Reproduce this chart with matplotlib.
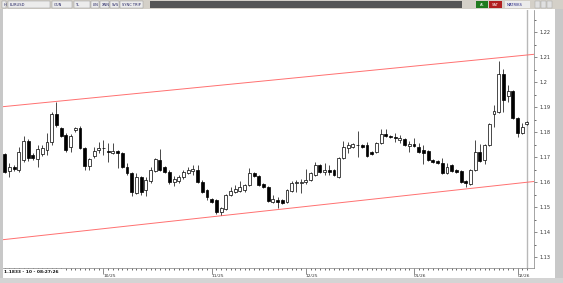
import numpy as np
import matplotlib.pyplot as plt
from matplotlib.patches import Rectangle

# daily EURUSD candles (open, high, low, close)
opens = [1.1711, 1.1644, 1.1661, 1.1648, 1.1688, 1.1765, 1.1708, 1.1692, 1.1711, 1.1728,
         1.1759, 1.1872, 1.1815, 1.1788, 1.1741, 1.1808, 1.1815, 1.1737, 1.1665, 1.1704,
         1.1728, 1.1734, 1.1725, 1.1715, 1.1725, 1.1715, 1.1661, 1.1635, 1.1557, 1.1619,
         1.1568, 1.1604, 1.1645, 1.1688, 1.1659, 1.1641, 1.1599, 1.1605, 1.1619, 1.1635,
         1.1645, 1.1648, 1.1601, 1.1568, 1.1531, 1.1528, 1.1481, 1.1491, 1.1548, 1.1561,
         1.1565, 1.1568, 1.1588, 1.1635, 1.1624, 1.1591, 1.1581, 1.1521, 1.1528, 1.1528,
         1.1521, 1.1565, 1.1595, 1.1595, 1.1599, 1.1608, 1.1628, 1.1668, 1.1641, 1.1648,
         1.1648, 1.1621, 1.1695, 1.1735, 1.1741, 1.1746, 1.1748, 1.1748, 1.1721, 1.1721,
         1.1755, 1.1792, 1.1784, 1.1781, 1.1768, 1.1771, 1.1744, 1.1752, 1.1741, 1.1728,
         1.1724, 1.1688, 1.1684, 1.1675, 1.1635, 1.1668, 1.1648, 1.1644, 1.1604, 1.1591,
         1.1648, 1.1719, 1.1688, 1.1748, 1.1871, 1.1879, 1.2031, 1.1945, 1.1964, 1.1855,
         1.1795, 1.1832]
highs = [1.1715, 1.1676, 1.1668, 1.1741, 1.1784, 1.1772, 1.1716, 1.1748, 1.1748, 1.1796,
         1.1880, 1.1921, 1.1821, 1.1795, 1.1790, 1.1821, 1.1824, 1.1740, 1.1696, 1.1741,
         1.1761, 1.1768, 1.1757, 1.1757, 1.1728, 1.1720, 1.1676, 1.1640, 1.1636, 1.1625,
         1.1621, 1.1661, 1.1696, 1.1731, 1.1664, 1.1646, 1.1624, 1.1629, 1.1646, 1.1661,
         1.1668, 1.1668, 1.1606, 1.1572, 1.1535, 1.1532, 1.1500, 1.1552, 1.1581, 1.1588,
         1.1604, 1.1592, 1.1655, 1.1640, 1.1628, 1.1595, 1.1585, 1.1548, 1.1541, 1.1532,
         1.1572, 1.1604, 1.1608, 1.1611, 1.1651, 1.1640, 1.1681, 1.1672, 1.1675, 1.1668,
         1.1652, 1.1700, 1.1765, 1.1761, 1.1756, 1.1805, 1.1752, 1.1761, 1.1725, 1.1760,
         1.1811, 1.1811, 1.1788, 1.1795, 1.1788, 1.1776, 1.1765, 1.1775, 1.1755, 1.1748,
         1.1728, 1.1692, 1.1688, 1.1695, 1.1675, 1.1672, 1.1652, 1.1648, 1.1608, 1.1652,
         1.1768, 1.1751, 1.1752, 1.1836, 1.1908, 1.2084, 1.2052, 1.1988, 1.1968, 1.1860,
         1.1836, 1.1845]
lows = [1.1638, 1.1621, 1.1644, 1.1640, 1.1680, 1.1684, 1.1688, 1.1661, 1.1705, 1.1708,
        1.1748, 1.1820, 1.1780, 1.1720, 1.1720, 1.1801, 1.1730, 1.1648, 1.1648, 1.1698,
        1.1716, 1.1708, 1.1681, 1.1710, 1.1656, 1.1655, 1.1628, 1.1544, 1.1550, 1.1548,
        1.1544, 1.1598, 1.1640, 1.1644, 1.1636, 1.1592, 1.1584, 1.1596, 1.1614, 1.1630,
        1.1628, 1.1596, 1.1556, 1.1528, 1.1515, 1.1472, 1.1468, 1.1488, 1.1545, 1.1556,
        1.1560, 1.1561, 1.1584, 1.1620, 1.1584, 1.1575, 1.1520, 1.1516, 1.1495, 1.1512,
        1.1516, 1.1560, 1.1561, 1.1557, 1.1592, 1.1604, 1.1624, 1.1636, 1.1628, 1.1628,
        1.1624, 1.1616, 1.1690, 1.1715, 1.1736, 1.1701, 1.1736, 1.1700, 1.1706, 1.1716,
        1.1750, 1.1780, 1.1775, 1.1761, 1.1755, 1.1744, 1.1721, 1.1741, 1.1715, 1.1670,
        1.1684, 1.1675, 1.1671, 1.1630, 1.1630, 1.1640, 1.1635, 1.1596, 1.1581, 1.1586,
        1.1644, 1.1680, 1.1672, 1.1744, 1.1821, 1.1875, 1.1880, 1.1921, 1.1850, 1.1781,
        1.1790, 1.1828]
closes = [1.1641, 1.1661, 1.1652, 1.1719, 1.1765, 1.1695, 1.1695, 1.1732, 1.1735, 1.1761,
          1.1872, 1.1828, 1.1785, 1.1728, 1.1785, 1.1816, 1.1735, 1.1665, 1.1692, 1.1724,
          1.1736, 1.1736, 1.1719, 1.1725, 1.1715, 1.1661, 1.1635, 1.1561, 1.1621, 1.1561,
          1.1608, 1.1648, 1.1691, 1.1648, 1.1641, 1.1599, 1.1611, 1.1619, 1.1641, 1.1648,
          1.1652, 1.1601, 1.1561, 1.1539, 1.1520, 1.1481, 1.1495, 1.1548, 1.1565, 1.1571,
          1.1581, 1.1588, 1.1635, 1.1624, 1.1588, 1.1579, 1.1525, 1.1531, 1.1520, 1.1517,
          1.1568, 1.1595, 1.1601, 1.1601, 1.1608, 1.1635, 1.1668, 1.1641, 1.1648, 1.1639,
          1.1628, 1.1695, 1.1741, 1.1748, 1.1752, 1.1748, 1.1741, 1.1704, 1.1711, 1.1755,
          1.1792, 1.1784, 1.1779, 1.1775, 1.1775, 1.1748, 1.1752, 1.1744, 1.1721, 1.1715,
          1.1688, 1.1679, 1.1675, 1.1635, 1.1661, 1.1644, 1.1639, 1.1601, 1.1595, 1.1648,
          1.1719, 1.1684, 1.1748, 1.1831, 1.1884, 1.2031, 1.1928, 1.1964, 1.1855, 1.1795,
          1.1821, 1.1840]

month_labels = ['10/25', '11/25', '12/25', '01/26', '02/26']
month_start = [21, 44, 64, 87, 109]

# trend channel, two points each (bar index, price)
upper_pts = [(0, 1.1902), (111, 1.2108)]
lower_pts = [(0, 1.1370), (111, 1.1599)]

price_ticks = [1.13, 1.14, 1.15, 1.16, 1.17, 1.18, 1.19, 1.20, 1.21, 1.22]

W, H = 563, 283
fig = plt.figure(figsize=(W / 100, H / 100), dpi=100)
fig.patch.set_facecolor('white')

def px_rect(x0, y0, x1, y1, **kw):
    # rectangle in pixel coords (top-left origin)
    fig.patches.append(Rectangle((x0 / W, 1 - y1 / H), (x1 - x0) / W, (y1 - y0) / H,
                                 transform=fig.transFigure, figure=fig, **kw))

def px_text(x, y, s, **kw):
    fig.text(x / W, 1 - y / H, s, **kw)

# window frame
px_rect(0, 0, 3, H, facecolor='#c8c8c8', edgecolor='none')
px_rect(555, 0, W, H, facecolor='#c8c8c8', edgecolor='none')
px_rect(0, 278, W, H, facecolor='#d4d4d4', edgecolor='none')

# toolbar
px_rect(0, 0, W, 9, facecolor='#d4d0c8', edgecolor='none')
px_rect(150, 1, 462, 8, facecolor='#555555', edgecolor='none')
boxes = [(2, 6, 'H'), (8, 50, 'EURUSD'), (52, 72, 'GUN'), (74, 90, 'TL'),
         (91, 99, 'LIN'), (100, 109, 'XNN'), (110, 119, 'SVS'), (120, 143, 'SYNC TRIP')]
for x0, x1, s in boxes:
    px_rect(x0, 1.5, x1, 7.5, facecolor='#ececec', edgecolor='#909090', linewidth=0.3)
    px_text(x0 + 1.5, 4.6, s, fontsize=2.6, va='center', ha='left', color='#202060')
px_rect(476, 1.5, 488, 7.5, facecolor='#1f7a1f', edgecolor='none')
px_text(482, 4.6, 'AL', fontsize=2.6, va='center', ha='center', color='white')
px_rect(489, 1.5, 502, 7.5, facecolor='#b02020', edgecolor='none')
px_text(495.5, 4.6, 'SAT', fontsize=2.6, va='center', ha='center', color='white')
px_rect(505, 1.5, 530, 7.5, facecolor='#ececec', edgecolor='none')
px_text(507, 4.6, 'MATRIKS', fontsize=2.6, va='center', ha='left', color='#202080')
for bx in (535, 541, 547):
    px_rect(bx, 1.5, bx + 5, 7.5, facecolor='#e0e0e0', edgecolor='#a0a0a0', linewidth=0.3)

# main chart axes
ax = fig.add_axes([3 / W, 1 - 268 / H, (534 - 3) / W, (268 - 10) / H])
ax.set_facecolor('white')
idx = np.arange(len(opens))
o = np.array(opens)
c = np.array(closes)
up = c >= o
body_lo = np.minimum(o, c)
body_h = np.maximum(np.abs(c - o), 0.00025)

ax.vlines(idx, lows, highs, color='black', linewidth=0.5, zorder=2)
ax.bar(idx[up], body_h[up], bottom=body_lo[up], width=0.62, facecolor='white',
       edgecolor='black', linewidth=0.5, zorder=3)
ax.bar(idx[~up], body_h[~up], bottom=body_lo[~up], width=0.62, facecolor='black',
       edgecolor='black', linewidth=0.5, zorder=3)

ax.axline(upper_pts[0], upper_pts[1], color='#ff7070', linewidth=0.7, zorder=1)
ax.axline(lower_pts[0], lower_pts[1], color='#ff7070', linewidth=0.7, zorder=1)

# chart shift marker
ax.axvline(111, color='#b8b8b8', linewidth=1.0, zorder=0)

ax.set_xlim(-0.36, 112.5)
ax.set_ylim(1.1256, 1.2288)

ax.yaxis.tick_right()
ax.set_yticks(price_ticks)
ax.set_yticklabels(['%g' % p for p in price_ticks])
ax.set_yticks(np.arange(1.13, 1.2251, 0.005), minor=True)
ax.tick_params(axis='y', which='major', length=2.5, width=0.4, labelsize=3.6, pad=1.5,
               colors='#333333')
ax.tick_params(axis='y', which='minor', length=1.5, width=0.4)

ax.set_xticks(month_start)
ax.set_xticklabels(month_labels)
ax.set_xticks(idx, minor=True)
ax.tick_params(axis='x', which='major', length=4, width=0.4, labelsize=3.2, pad=0.5,
               colors='#333333')
ax.tick_params(axis='x', which='minor', length=1.5, width=0.4)
for lab in ax.get_xticklabels():
    lab.set_ha('left')

for side in ('top', 'left'):
    ax.spines[side].set_visible(False)
ax.spines['right'].set_color('#808080')
ax.spines['right'].set_linewidth(0.5)
ax.spines['bottom'].set_color('#808080')
ax.spines['bottom'].set_linewidth(0.5)

px_rect(3, 269, 62, 275, facecolor='white', edgecolor='none', zorder=5)
px_text(4, 272, '1.1833 - 10 - 08:27:26', fontsize=3.2, va='center', ha='left',
        color='#101010', fontweight='bold', zorder=6)

fig.savefig('out.png', dpi=100, facecolor=fig.get_facecolor())
